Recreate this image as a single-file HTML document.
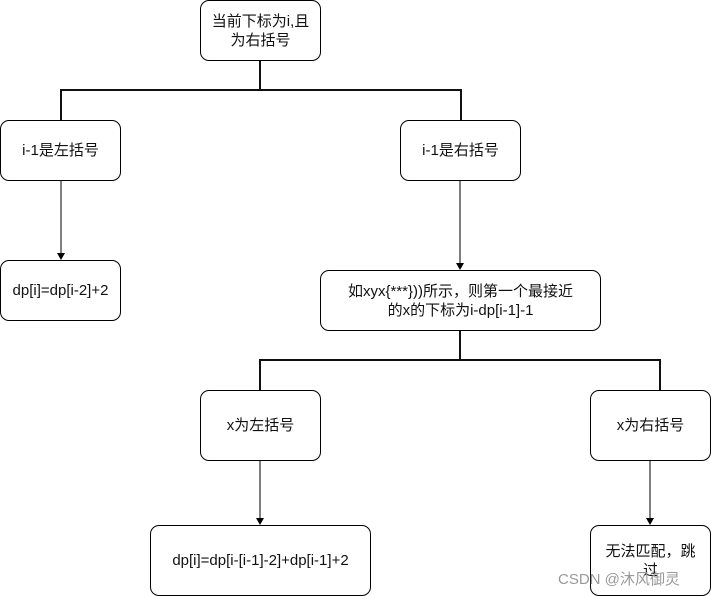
<!DOCTYPE html>
<html><head><meta charset="utf-8"><style>
body{margin:0;width:711px;height:596px;background:#fff;overflow:hidden;position:relative;font-family:"Liberation Sans","Noto Sans CJK SC",sans-serif;}
.b{position:absolute;box-sizing:border-box;border:1px solid #000;border-radius:9px;background:#fff;display:flex;align-items:center;justify-content:center;text-align:center;font-size:15px;line-height:19px;color:#111;}
svg{position:absolute;left:0;top:0}
.wm{position:absolute;left:558px;top:568px;font-size:15px;color:#999;}
</style></head><body>
<svg width="711" height="596">
<g stroke="#111" fill="none" stroke-width="2">
<path d="M260 60V90M61 120V90H461V120"/>
<path d="M460 330V360M260 390V360H660V390"/>
</g>
<g stroke="#000" fill="none" stroke-width="1">
<path d="M61 180V254M460 180V264M260 460V519M650 460V519"/>
</g>
<g fill="#000">
<path d="M57 253L61 260 65 253Z"/><path d="M456 263L460 270 464 263Z"/>
<path d="M256 518L260 525 264 518Z"/><path d="M646 518L650 525 654 518Z"/>
</g>
</svg>
<div class="b" style="left:200px;top:0;width:121px;height:61px">当前下标为i,且<br>为右括号</div>
<div class="b" style="left:0;top:120px;width:121px;height:61px">i-1是左括号</div>
<div class="b" style="left:400px;top:120px;width:121px;height:61px">i-1是右括号</div>
<div class="b" style="left:0;top:260px;width:121px;height:61px">dp[i]=dp[i-2]+2</div>
<div class="b" style="left:320px;top:270px;width:281px;height:61px">如xyx{***}))所示，则第一个最接近<br>的x的下标为i-dp[i-1]-1</div>
<div class="b" style="left:200px;top:390px;width:121px;height:71px">x为左括号</div>
<div class="b" style="left:590px;top:390px;width:121px;height:71px">x为右括号</div>
<div class="b" style="left:150px;top:525px;width:221px;height:71px">dp[i]=dp[i-[i-1]-2]+dp[i-1]+2</div>
<div class="b" style="left:590px;top:525px;width:121px;height:71px">无法匹配，跳<br>过</div>
<div class="wm">CSDN @沐风御灵</div>
</body></html>
